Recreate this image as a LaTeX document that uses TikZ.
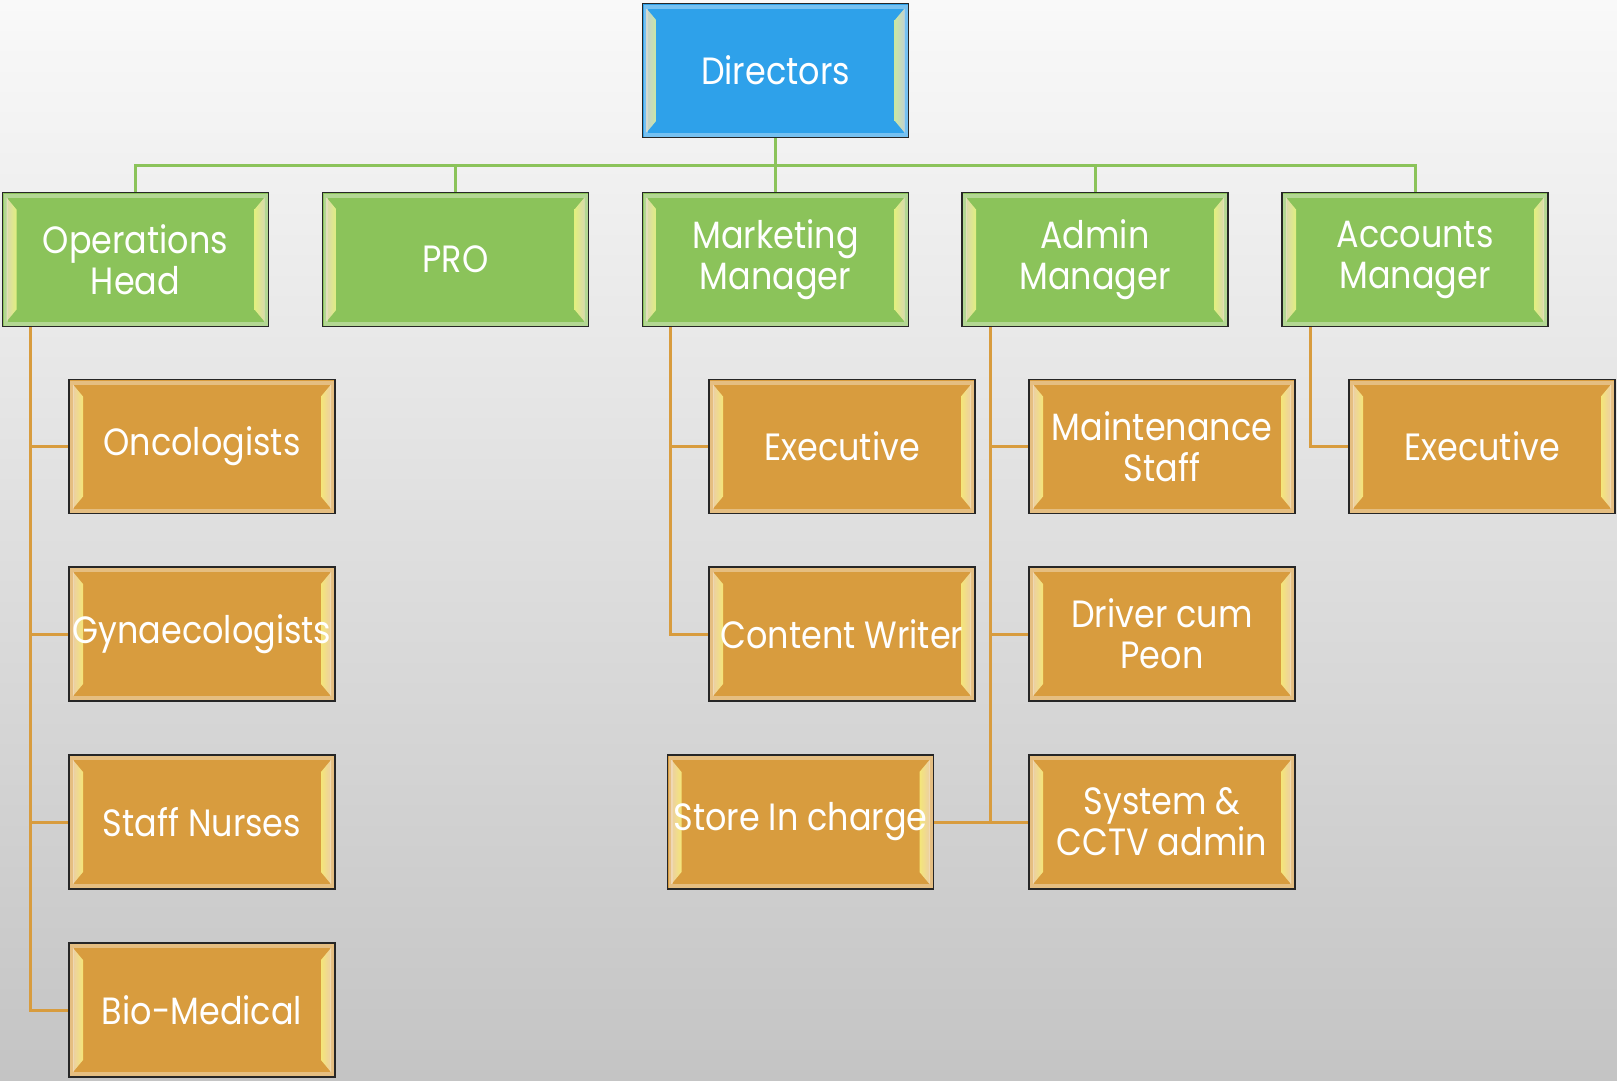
\documentclass[tikz,border=0pt]{standalone}
\usepackage{fontspec}
\newfontfamily\boxfont[FakeStretch=0.88]{Poppins}
\definecolor{bluefill}{HTML}{2EA1EA}
\definecolor{greenfill}{HTML}{8BC35A}
\definecolor{orangefill}{HTML}{D89C3E}
\definecolor{bgtop}{HTML}{F9F9F9}
\definecolor{bgbot}{HTML}{C4C4C4}
\tikzset{
  bevelbox/.style={draw=black!85, line width=1.6pt, minimum width=266pt, minimum height=134pt,
    inner sep=0pt, align=center, text=white, font=\boxfont\fontsize{38}{41}\selectfont,
    path picture={
      \draw[white, opacity=0.35, line width=4pt]
        ([xshift=3pt,yshift=-3pt]path picture bounding box.north west) rectangle
        ([xshift=-3pt,yshift=3pt]path picture bounding box.south east);
      \shade[left color=orangefill!30!white, right color=yellow!45!white, opacity=0.75]
        ([xshift=4pt,yshift=-5pt]path picture bounding box.north west) --
        ([xshift=14pt,yshift=-17pt]path picture bounding box.north west) --
        ([xshift=14pt,yshift=17pt]path picture bounding box.south west) --
        ([xshift=4pt,yshift=5pt]path picture bounding box.south west) -- cycle;
      \shade[right color=orangefill!30!white, left color=yellow!45!white, opacity=0.75]
        ([xshift=-4pt,yshift=-5pt]path picture bounding box.north east) --
        ([xshift=-14pt,yshift=-17pt]path picture bounding box.north east) --
        ([xshift=-14pt,yshift=17pt]path picture bounding box.south east) --
        ([xshift=-4pt,yshift=5pt]path picture bounding box.south east) -- cycle;
    }},
  bluebox/.style={bevelbox, fill=bluefill},
  greenbox/.style={bevelbox, fill=greenfill},
  orangebox/.style={bevelbox, fill=orangefill},
  gline/.style={draw=greenfill, line width=3pt},
  oline/.style={draw=orangefill, line width=3pt},
}
\begin{document}
\begin{tikzpicture}[x=1pt, y=-1pt]
\shade[top color=bgtop, bottom color=bgbot] (0,0) rectangle (1617,1080);
\useasboundingbox (0,0) rectangle (1617,1080);

% top level
\node[bluebox] (dir) at (775.5,70.5) {Directors};
% second level
\node[greenbox] (ops) at (135.5,259.5) {Operations\\Head};
\node[greenbox] (pro) at (455.5,259.5) {PRO};
\node[greenbox] (mkt) at (775.5,259.5) {Marketing\\Manager};
\node[greenbox] (adm) at (1095,259.5) {Admin\\Manager};
\node[greenbox] (acc) at (1415,259.5) {Accounts\\Manager};
% third level
\node[orangebox] (onc) at (202,446.5) {Oncologists};
\node[orangebox] (gyn) at (202,634) {Gynaecologists};
\node[orangebox] (nur) at (202,822) {Staff Nurses};
\node[orangebox] (bio) at (202,1010) {Bio-Medical};
\node[orangebox] (mex) at (842,446.5) {Executive};
\node[orangebox] (cwr) at (842,634) {Content Writer};
\node[orangebox] (sto) at (800.5,822) {Store In charge};
\node[orangebox] (mst) at (1162,446.5) {Maintenance\\Staff};
\node[orangebox] (drv) at (1162,634) {Driver cum\\Peon};
\node[orangebox] (sys) at (1162,822) {System \&\\CCTV admin};
\node[orangebox] (aex) at (1482,446.5) {Executive};

% green connectors
\coordinate (bus) at (775.5,165);
\draw[gline] (dir.south) -- (mkt.north);
\draw[gline] (ops.north) |- (bus) -| (acc.north);
\draw[gline] (pro.north) -- (pro.north |- bus);
\draw[gline] (adm.north) -- (adm.north |- bus);

% orange connectors
\coordinate (opsbar) at (30,327);
\coordinate (mktbar) at (670,327);
\coordinate (admbar) at (990,327);
\coordinate (accbar) at (1310,327);
\draw[oline] (opsbar) |- (bio.west);
\draw[oline] (opsbar |- onc.west) -- (onc.west);
\draw[oline] (opsbar |- gyn.west) -- (gyn.west);
\draw[oline] (opsbar |- nur.west) -- (nur.west);
\draw[oline] (mktbar) |- (cwr.west);
\draw[oline] (mktbar |- mex.west) -- (mex.west);
\draw[oline] (admbar) -- (admbar |- sys.west);
\draw[oline] (admbar |- mst.west) -- (mst.west);
\draw[oline] (admbar |- drv.west) -- (drv.west);
\draw[oline] (sto.east) -- (sys.west);
\draw[oline] (accbar) |- (aex.west);
\end{tikzpicture}
\end{document}
